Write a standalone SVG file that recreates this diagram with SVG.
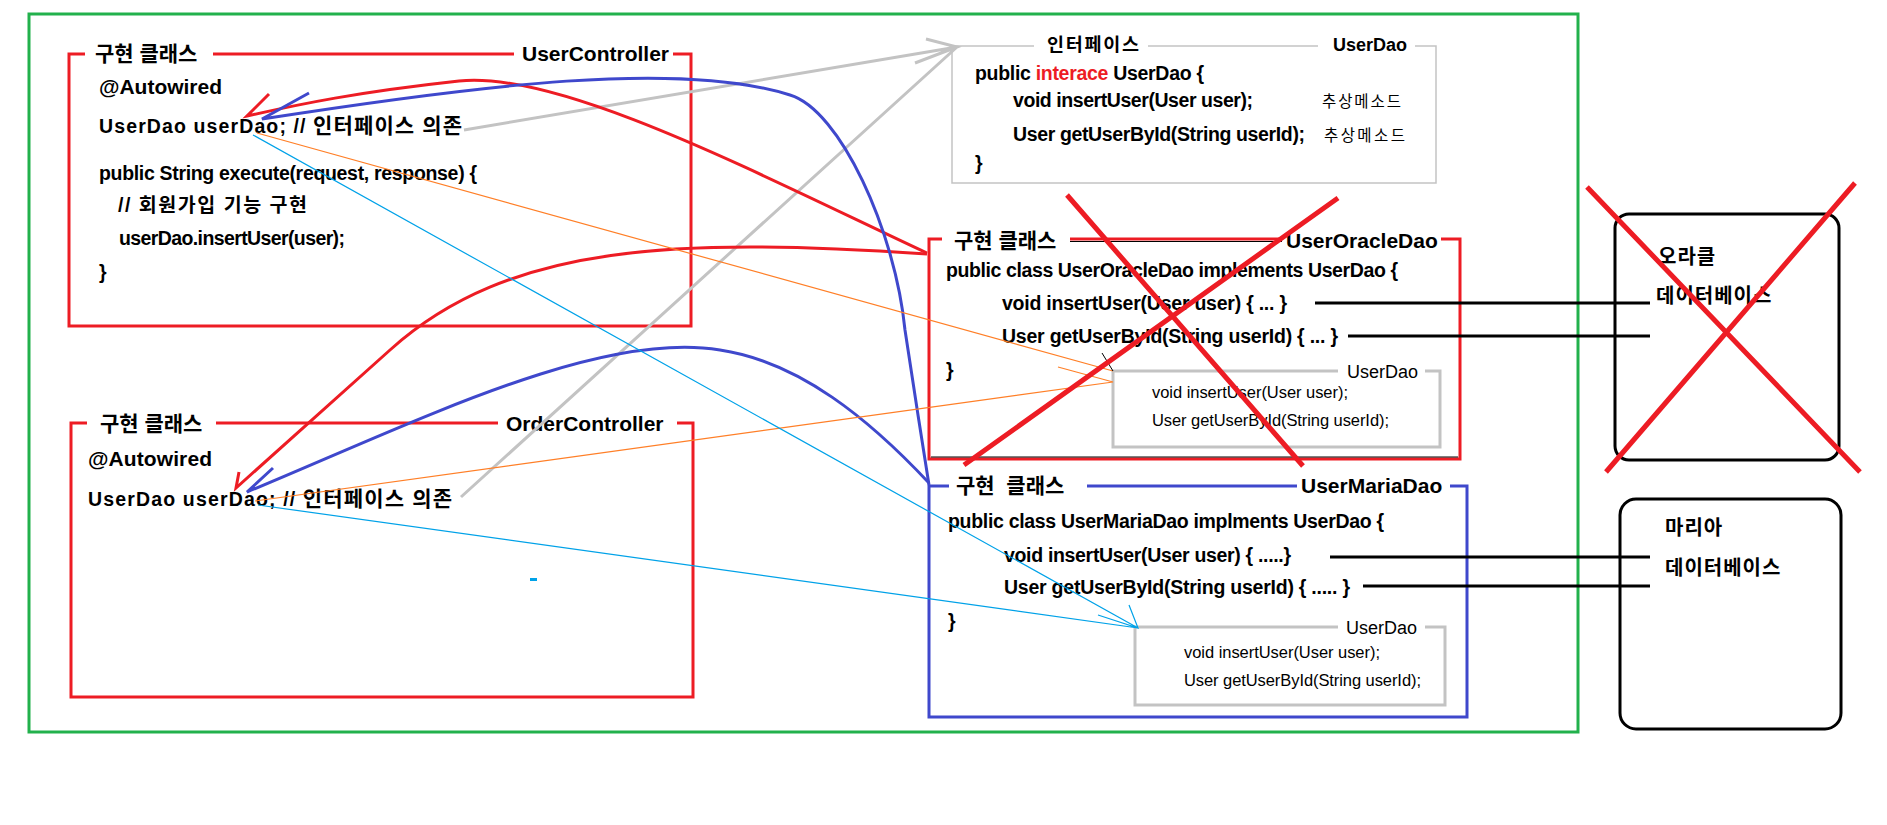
<svg xmlns="http://www.w3.org/2000/svg" width="1887" height="825" viewBox="0 0 1887 825">
<style>
.t{font-family:"Liberation Sans","Noto Sans CJK KR",sans-serif;font-weight:bold;font-size:21px;fill:#000}
.c{font-family:"Liberation Sans","Noto Sans CJK KR",sans-serif;font-weight:bold;font-size:19.5px;fill:#000}
.h{font-size:21px}
.s{font-family:"Liberation Sans","Noto Sans CJK KR",sans-serif;font-weight:normal;font-size:16.5px;fill:#000}
.db{font-family:"Noto Sans CJK KR","Liberation Sans",sans-serif;font-weight:bold;font-size:20px;letter-spacing:1px;fill:#000}
.red{fill:none;stroke:#ed1c24;stroke-width:3}
.blue{fill:none;stroke:#3f48cc;stroke-width:3}
.gray{fill:none;stroke:#c3c3c3;stroke-width:3}
.grayt{fill:none;stroke:#c3c3c3;stroke-width:1.5}
.blk{fill:none;stroke:#000;stroke-width:3}
.org{fill:none;stroke:#ff7f27;stroke-width:1.2}
.sky{fill:none;stroke:#00a2e8;stroke-width:1.2}
.x{fill:none;stroke:#ed1c24;stroke-width:5}
</style>
<rect id="container" x="29" y="14" width="1549" height="718" fill="none" stroke="#22b14c" stroke-width="3"/>

<g id="user-controller">
<path class="red" d="M85,54 H69 V326 H691 V54 H673 M514,54 H213"/>
<text class="t" x="95" y="61">구현 클래스</text>
<text class="t" x="522" y="61">UserController</text>
<text class="c h" x="99" y="94" textLength="123">@Autowired</text>
<text class="c" x="99" y="133" textLength="363">UserDao userDao; // <tspan class="h">인터페이스 의존</tspan></text>
<text class="c" x="99" y="180" textLength="378">public String execute(request, response) {</text>
<text class="c" x="118" y="212" textLength="189">// 회원가입 기능 구현</text>
<text class="c" x="119" y="245" textLength="226">userDao.insertUser(user);</text>
<text class="c" x="99" y="279">}</text>
</g>

<g id="order-controller">
<path class="red" d="M87,423 H71 V697 H693 V423 H677 M498,423 H216"/>
<text class="t" x="100" y="431">구현 클래스</text>
<text class="t" x="506" y="431">OrderController</text>
<text class="c h" x="88" y="466" textLength="124">@Autowired</text>
<text class="c" x="88" y="506" textLength="364">UserDao userDao; // <tspan class="h">인터페이스 의존</tspan></text>
<rect x="530" y="578" width="7" height="3" fill="#00a2e8"/>
</g>

<g id="userdao-interface">
<path class="grayt" d="M1034,46 H952 V183 H1436 V46 H1415 M1318,46 H1148"/>
<text class="c" x="1047" y="51" style="font-size:18.5px" textLength="92">인터페이스</text>
<text class="c" x="1333" y="51" style="font-size:18px">UserDao</text>
<text class="c" x="975" y="80" textLength="229">public <tspan fill="#ed1c24">interace</tspan> UserDao {</text>
<text class="c" x="1013" y="107" textLength="240">void insertUser(User user);</text>
<text class="s" x="1322" y="107" style="font-size:15.5px" textLength="79">추상메소드</text>
<text class="c" x="1013" y="141" textLength="292">User getUserById(String userId);</text>
<text class="s" x="1324" y="141" style="font-size:15.5px" textLength="81">추상메소드</text>
<text class="c" x="975" y="170">}</text>
</g>

<g id="user-oracle-dao">
<path class="red" d="M942,239 H929 V459 H1460 V239 H1441 M1282,239 H1070"/>
<path d="M1070,241.5 H1282 M931,457 H1458" stroke="#000" stroke-width="1" fill="none"/>
<text class="t" x="954" y="248">구현 클래스</text>
<text class="t" x="1286" y="248">UserOracleDao</text>
<text class="c" x="946" y="277" textLength="452">public class UserOracleDao implements UserDao {</text>
<text class="c" x="1002" y="310" textLength="285">void insertUser(User user) { ... }</text>
<text class="c" x="1002" y="343" textLength="336">User getUserById(String userId) { ... }</text>
<text class="c" x="946" y="377">}</text>
<g id="oracle-userdao">
<path class="gray" d="M1338,371 H1113 V447 H1440 V371 H1425"/>
<text class="s" x="1347" y="378" style="font-size:18px">UserDao</text>
<text class="s" x="1152" y="398" textLength="196">void insertUser(User user);</text>
<text class="s" x="1152" y="426" textLength="237">User getUserById(String userId);</text>
</g>
</g>

<g id="user-maria-dao">
<path class="blue" d="M949,486 H929 V717 H1467 V486 H1450 M1297,486 H1087"/>
<text class="t" x="956" y="493" xml:space="preserve">구현  클래스</text>
<text class="t" x="1301" y="493">UserMariaDao</text>
<text class="c" x="948" y="528" textLength="436">public class UserMariaDao implments UserDao {</text>
<text class="c" x="1004" y="562" textLength="287">void insertUser(User user) { .....}</text>
<text class="c" x="1004" y="594" textLength="346">User getUserById(String userId) { ..... }</text>
<text class="c" x="948" y="628">}</text>
<g id="maria-userdao">
<path class="gray" d="M1338,627 H1135 V705 H1445 V627 H1425"/>
<text class="s" x="1346" y="634" style="font-size:18px">UserDao</text>
<text class="s" x="1184" y="658" textLength="196">void insertUser(User user);</text>
<text class="s" x="1184" y="686" textLength="237">User getUserById(String userId);</text>
</g>
</g>

<g id="oracle-db">
<rect class="blk" x="1615" y="214" width="224" height="246" rx="14"/>
<text class="db" x="1658" y="264">오라클</text>
<text class="db" x="1656" y="303">데이터베이스</text>
</g>

<g id="maria-db">
<rect class="blk" x="1620" y="499" width="221" height="230" rx="16"/>
<text class="db" x="1665" y="535">마리아</text>
<text class="db" x="1665" y="575">데이터베이스</text>
</g>

<g id="connectors">
<path class="gray" d="M464,130 L957,47 M461,497 L957,47 M926,39 L957,47 L915,63"/>
<path class="red" d="M927,253 C760,175 560,70 459,81 S300,104 247,116 L269,94"/>
<path class="red" d="M927,254 C680,238 510,242 390,350 L236,488 L239,472"/>
<path class="blue" d="M929,485 C922,440 910,365 905,330 C895,230 840,110 790,95 C680,60 480,85 262,119 L309,93"/>
<path class="blue" d="M929,483 C870,420 800,362 720,350 C600,330 420,420 247,492 L273,468"/>
<path class="org" d="M257,133 L1113,371 M255,501 L1113,382 L1058,367"/>
<path d="M1102,353 L1113,371" stroke="#000" stroke-width="1" fill="none"/>
<path class="sky" d="M253,135 L1138,628 M258,505 L1138,628 M1098,615 L1138,628 L1129,605"/>
<path class="blk" d="M1315,303 H1650 M1348,336 H1650 M1330,557 H1650 M1363,586 H1650"/>
</g>

<g id="strike-marks">
<path class="x" d="M1067,195 L1303,466 M1338,198 L964,465"/>
<path class="x" d="M1587,187 L1860,472 M1855,183 L1606,472"/>
</g>
</svg>
